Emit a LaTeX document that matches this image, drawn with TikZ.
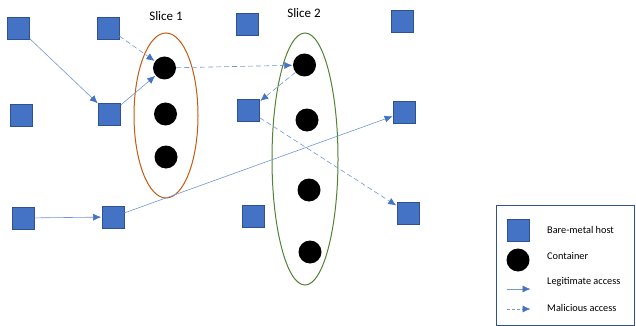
\documentclass[tikz,border=0pt]{standalone}
\usepackage{fontspec}
\setmainfont{Carlito}
\usetikzlibrary{arrows.meta,shapes.geometric}
\definecolor{hostfill}{HTML}{4472C4}
\definecolor{hostedge}{HTML}{2F528F}
\definecolor{arrowcol}{HTML}{4472C4}
\definecolor{linecol}{HTML}{6F96D8}
\definecolor{orangec}{HTML}{C55A11}
\definecolor{greenc}{HTML}{548235}
\tikzset{
  host/.style={draw=hostedge, fill=hostfill, minimum size=22pt, inner sep=0pt, line width=0.8pt},
  cont/.style={circle, fill=black, minimum size=23pt, inner sep=0pt},
  legit/.style={draw=linecol, line width=0.6pt, -{Latex[length=8pt,width=7pt,color=arrowcol]}, shorten >=0.5pt},
  malic/.style={legit, dash pattern=on 5pt off 3pt},
  slice/.style={ellipse, draw, line width=1pt, inner sep=0pt},
  lbl/.style={font=\fontsize{13}{15}\selectfont},
  leg/.style={font=\fontsize{10.3}{12}\selectfont, anchor=west, inner sep=0pt}
}
\begin{document}
\begin{tikzpicture}[x=1pt,y=-1pt]
\useasboundingbox (0,0) rectangle (636,326);
% slices
\node[slice, draw=orangec, minimum width=64pt, minimum height=165pt] (slice1) at (166,115.5) {};
\node[slice, draw=greenc, minimum width=66pt, minimum height=252pt] (slice2) at (305,159) {};
\node[lbl] (t1) at (166,16) {Slice 1};
\node[lbl] (t2) at (304,13) {Slice 2};
% hosts
\node[host] (A) at (18.5,28) {};
\node[host] (B) at (108,28) {};
\node[host] (C) at (21,115) {};
\node[host] (D) at (109.5,114.5) {};
\node[host] (E) at (247.5,24.5) {};
\node[host] (F) at (402,21) {};
\node[host] (G) at (248.5,110.5) {};
\node[host] (H) at (404.5,112) {};
\node[host] (I) at (23,218) {};
\node[host] (J) at (113,217) {};
\node[host] (K) at (253,216) {};
\node[host] (L) at (408,213) {};
% containers
\node[cont] (c1) at (164.5,68) {};
\node[cont] (c2) at (165.5,114) {};
\node[cont] (c3) at (166,157) {};
\node[cont] (d1) at (304.5,65) {};
\node[cont] (d2) at (307,120) {};
\node[cont] (d3) at (309,190) {};
\node[cont] (d4) at (310,252) {};
% arrows
\draw[legit] (A) -- (D);
\draw[legit] (D) -- (c1);
\draw[legit] (I) -- (J);
\draw[legit] (J) -- (H);
\draw[malic] (B) -- (c1);
\draw[malic] (c1) -- (d1);
\draw[malic] (d1) -- (G);
\draw[malic] (G) -- (L);
% legend
\node[draw=hostedge, line width=0.8pt, minimum width=138pt, minimum height=120pt, inner sep=0pt] (legend) at (565,265) {};
\node[host] (lh) at (518,230) {};
\node[cont] (lc) at (518,260) {};
\node[leg] (lt1) at (547,230) {Bare-metal host};
\node[leg] (lt2) at (547,256) {Container};
\node[leg] (lt3) at (547,282) {Legitimate access};
\node[leg] (lt4) at (547,308) {Malicious access};
\coordinate (la1) at (507,289);
\coordinate (la2) at (531,289);
\coordinate (lb1) at (507,309);
\coordinate (lb2) at (531,309);
\draw[legit] (la1) -- (la2);
\draw[malic, dash pattern=on 3pt off 2pt] (lb1) -- (lb2);
\end{tikzpicture}
\end{document}
